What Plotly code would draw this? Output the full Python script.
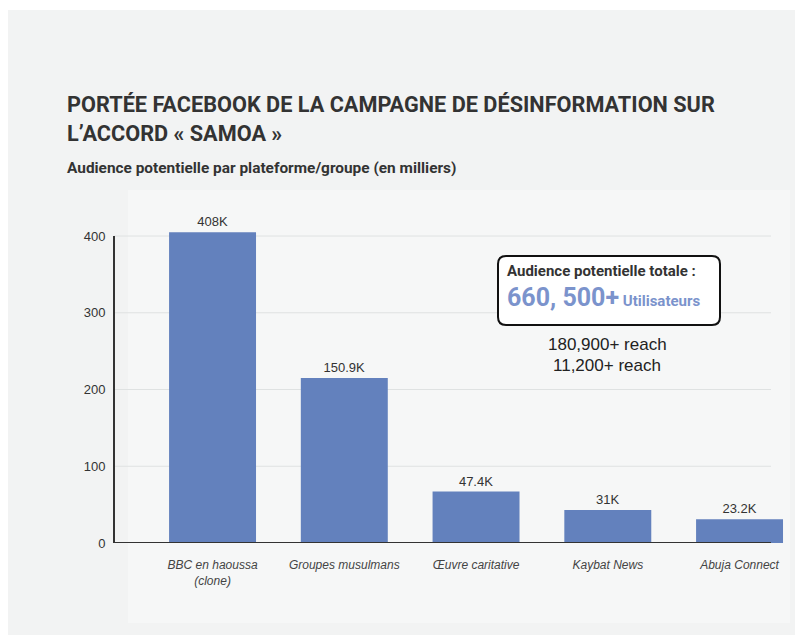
import plotly.graph_objects as go

# ---- data ----
categories = ["BBC en haoussa<br>(clone)", "Groupes musulmans", "Œuvre caritative", "Kaybat News", "Abuja Connect"]
bar_heights = [405, 215, 67, 43, 31]
bar_labels = ["408K", "150.9K", "47.4K", "31K", "23.2K"]
y_ticks = [0, 100, 200, 300, 400]
reach_lines = ["180,900+ reach", "11,200+ reach"]
total_value = "660, 500+"

# ---- layout geometry (page pixels; figure sits at an 8px body offset) ----
OFF = 8
W_FIG, H_FIG = 803, 635
L, R = 114, 785
B, T = 543, 213
PW, PH = R - L, B - T

def px(x):
    return (x - L) / PW

def py(y):
    return (B - y) / PH

BAR = "#6381bd"
DARK = "#333333"
BLUE = "#7b93cc"

fig = go.Figure()
fig.add_trace(go.Bar(
    x=list(range(len(categories))), y=bar_heights,
    marker=dict(color=BAR, line=dict(width=0)),
    width=0.66,
    text=bar_labels, textposition="outside", cliponaxis=False,
    textfont=dict(family="Liberation Sans, Arial", size=13, color="#333"),
    hoverinfo="skip",
))

shapes = []
shapes.append(dict(type="rect", xref="paper", yref="paper", x0=px(8), x1=px(805), y0=py(10), y1=py(640),
                   fillcolor="#f2f3f3", line=dict(width=0), layer="below"))
shapes.append(dict(type="rect", xref="paper", yref="paper", x0=px(128), x1=px(790), y0=py(190), y1=py(623),
                   fillcolor="#f6f7f7", line=dict(width=0), layer="below"))
for t in y_ticks[1:]:
    shapes.append(dict(type="line", xref="paper", yref="y", x0=0, x1=px(771), y0=t, y1=t,
                       line=dict(color="#dfe2e2", width=1), layer="below"))
shapes.append(dict(type="line", xref="paper", yref="y", x0=0, x1=px(771), y0=0, y1=0,
                   line=dict(color="#333", width=2)))
shapes.append(dict(type="line", xref="paper", yref="y", x0=0, x1=0, y0=0, y1=y_ticks[-1],
                   line=dict(color="#333", width=2)))

x0, x1, y0, y1, r = 498, 720, 256, 325, 8
path = (f"M {px(x0+r)},{py(y0)} L {px(x1-r)},{py(y0)} Q {px(x1)},{py(y0)} {px(x1)},{py(y0+r)} "
        f"L {px(x1)},{py(y1-r)} Q {px(x1)},{py(y1)} {px(x1-r)},{py(y1)} "
        f"L {px(x0+r)},{py(y1)} Q {px(x0)},{py(y1)} {px(x0)},{py(y1-r)} "
        f"L {px(x0)},{py(y0+r)} Q {px(x0)},{py(y0)} {px(x0+r)},{py(y0)} Z")
shapes.append(dict(type="path", xref="paper", yref="paper", path=path,
                   fillcolor="white", line=dict(color="#111", width=2)))

annotations = [
    dict(text="PORTÉE FACEBOOK DE LA CAMPAGNE DE DÉSINFORMATION SUR", x=px(65), y=py(104),
         font=dict(family="Roboto", size=21.7, color=DARK, weight="bold")),
    dict(text="L’ACCORD « SAMOA »", x=px(65), y=py(133),
         font=dict(family="Roboto", size=21.7, color=DARK, weight="bold")),
    dict(text="Audience potentielle par plateforme/groupe (en milliers)", x=px(65), y=py(168),
         font=dict(family="Roboto", size=15.4, color=DARK, weight="bold")),
    dict(text="Audience potentielle totale :", x=px(505), y=py(271),
         font=dict(family="Roboto", size=15, color=DARK, weight="bold")),
    dict(text=f"<span style='font-size:25px'>{total_value}</span> <span style='font-size:15px'>Utilisateurs</span>",
         x=px(505), y=py(297),
         font=dict(family="Roboto", size=15, color=BLUE, weight="bold")),
    dict(text=reach_lines[0], x=px(607), y=py(344), xanchor="center",
         font=dict(family="Liberation Sans, Arial", size=17, color="#222")),
    dict(text=reach_lines[1], x=px(607), y=py(365), xanchor="center",
         font=dict(family="Liberation Sans, Arial", size=17, color="#222")),
]
for a in annotations:
    a.setdefault("xanchor", "left")
    a.update(xref="paper", yref="paper", yanchor="middle", showarrow=False)

fig.update_layout(
    width=W_FIG, height=H_FIG,
    margin=dict(l=L - OFF, r=W_FIG - (R - OFF), t=T - OFF, b=H_FIG - (B - OFF), pad=0),
    paper_bgcolor="white", plot_bgcolor="rgba(0,0,0,0)",
    showlegend=False, bargap=0.34,
    shapes=shapes, annotations=annotations,
    xaxis=dict(
        range=[-0.748, 4.345], tickmode="array", tickvals=list(range(len(categories))),
        ticktext=[f"<i>{c}</i>" for c in categories],
        tickfont=dict(family="Liberation Sans, Arial", size=12, color="#444"),
        showgrid=False, zeroline=False, showline=False,
        ticks="outside", ticklen=11, tickcolor="rgba(0,0,0,0)",
    ),
    yaxis=dict(
        range=[0, 430], tickmode="array", tickvals=y_ticks,
        tickfont=dict(family="Liberation Sans, Arial", size=13, color="#333"),
        showgrid=False, zeroline=False, showline=False,
        ticks="outside", ticklen=5, tickcolor="rgba(0,0,0,0)",
    ),
)

fig.write_html("out.html")
